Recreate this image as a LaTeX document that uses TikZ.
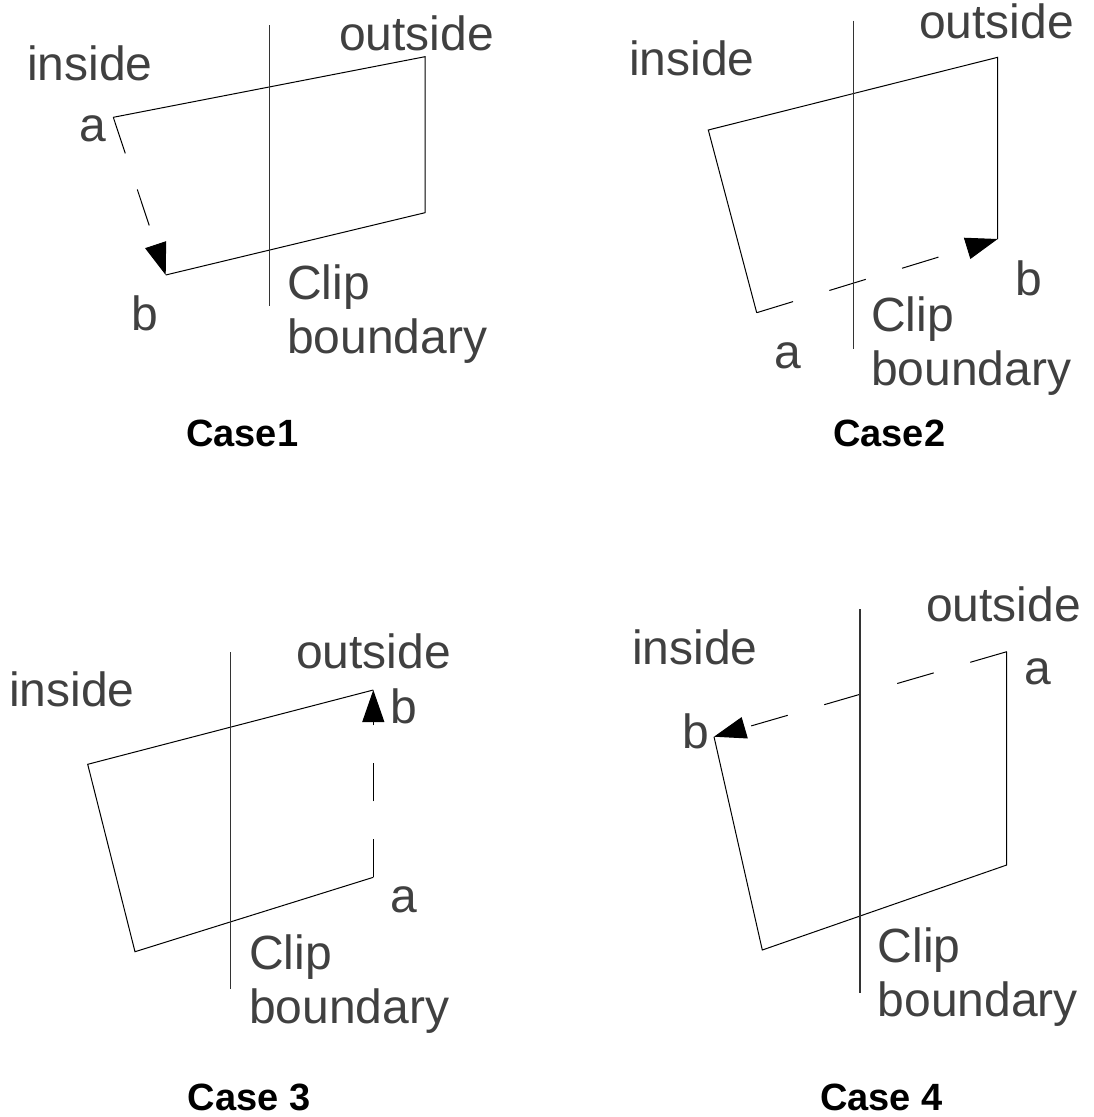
\documentclass[tikz,border=0pt]{standalone}
\usepackage{fontspec}
\setmainfont{Liberation Sans}
\usetikzlibrary{arrows.meta}
\definecolor{labelgray}{HTML}{404040}
\begin{document}
\begin{tikzpicture}[x=1pt,y=-1pt,
  edge/.style={line width=1pt,black},
  clipline/.style={line width=1.3pt,black!80},
  trav/.style={line width=1pt,black,dash pattern=on 38pt off 38pt,
    -{Triangle[length=32pt,width=22pt]}},
  lbl/.style={inner sep=0pt,anchor=base west,text=labelgray,
    font=\fontsize{48}{54}\selectfont},
  twoline/.style={lbl,align=left},
  casetitle/.style={inner sep=0pt,anchor=base west,
    font=\fontsize{38}{44}\selectfont\bfseries}]
\useasboundingbox (0,0) rectangle (1093,1117);

% ---- Case 1 ----
\coordinate (a1) at (113.3,117.3);
\coordinate (tr1) at (425,56.7);
\coordinate (br1) at (425,212.7);
\coordinate (b1) at (165.7,275);
\coordinate (c1t) at (269.3,25);
\coordinate (c1b) at (269.3,306);
\draw[edge] (a1) -- (tr1) -- (br1) -- (b1);
\draw[trav] (a1) -- (b1);
\draw[clipline] (c1t) -- (c1b);
\node[lbl] (in1) at (27,80) {inside};
\node[lbl] (la1) at (79,141) {a};
\node[lbl] (out1) at (339,50) {outside};
\node[lbl] (lb1) at (131,330) {b};
\node[twoline] (cb1) at (287,353.3) {Clip\\boundary};
\node[casetitle] (case1) at (186,446.7) {Case1};

% ---- Case 2 ----
\coordinate (a2) at (756.7,312.7);
\coordinate (tl2) at (708.3,130);
\coordinate (tr2) at (997.7,57.3);
\coordinate (b2) at (997.7,239);
\coordinate (c2t) at (853.3,20.7);
\coordinate (c2b) at (853.3,349.3);
\draw[edge] (a2) -- (tl2) -- (tr2) -- (b2);
\draw[trav] (a2) -- (b2);
\draw[clipline] (c2t) -- (c2b);
\node[lbl] (in2) at (629,75) {inside};
\node[lbl] (out2) at (919,38.3) {outside};
\node[lbl] (lb2) at (1015,295) {b};
\node[lbl] (la2) at (774,368.3) {a};
\node[twoline] (cb2) at (871,385) {Clip\\boundary};
\node[casetitle] (case2) at (833,446.7) {Case2};

% ---- Case 3 ----
\coordinate (a3) at (373.3,877.3);
\coordinate (bl3) at (135,951.7);
\coordinate (tl3) at (87.7,764.3);
\coordinate (b3) at (373.3,690);
\coordinate (c3t) at (230.7,652.3);
\coordinate (c3b) at (230.7,989.3);
\draw[edge] (a3) -- (bl3) -- (tl3) -- (b3);
\draw[trav] (a3) -- (b3);
\draw[clipline] (c3t) -- (c3b);
\node[lbl] (in3) at (9,706.7) {inside};
\node[lbl] (out3) at (296,668.3) {outside};
\node[lbl] (lb3) at (390.5,723.3) {b};
\node[lbl] (la3) at (390.5,912.7) {a};
\node[twoline] (cb3) at (249,1023.3) {Clip\\boundary};
\node[casetitle] (case3) at (187.5,1110) {Case 3};

% ---- Case 4 ----
\coordinate (a4) at (1006.7,651.7);
\coordinate (br4) at (1006.7,865);
\coordinate (bl4) at (762.3,950);
\coordinate (b4) at (714,736.7);
\coordinate (c4t) at (860,609.3);
\coordinate (c4b) at (860,992.7);
\draw[edge] (a4) -- (br4) -- (bl4) -- (b4);
\draw[trav] (a4) -- (b4);
\draw[clipline] (c4t) -- (c4b);
\node[lbl] (in4) at (632,664) {inside};
\node[lbl] (out4) at (926,621.7) {outside};
\node[lbl] (la4) at (1024,684) {a};
\node[lbl] (lb4) at (682.5,748.3) {b};
\node[twoline] (cb4) at (877.5,1016.7) {Clip\\boundary};
\node[casetitle] (case4) at (820,1110) {Case 4};
\end{tikzpicture}
\end{document}
